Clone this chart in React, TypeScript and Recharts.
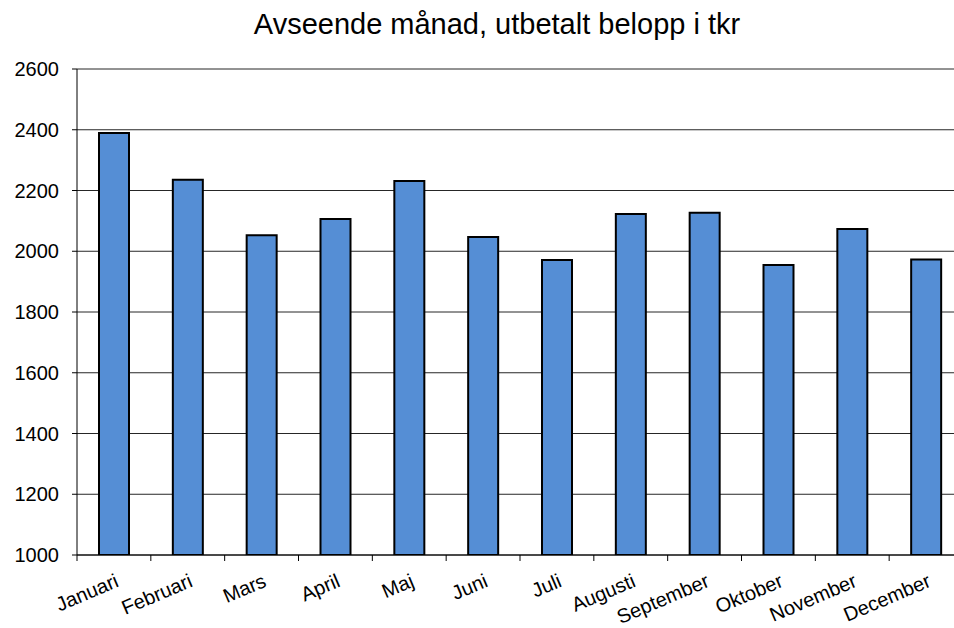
import { BarChart, Bar, XAxis, YAxis, CartesianGrid } from "recharts";

const months = [
  "Januari",
  "Februari",
  "Mars",
  "April",
  "Maj",
  "Juni",
  "Juli",
  "Augusti",
  "September",
  "Oktober",
  "November",
  "December",
];
const amounts = [2389, 2235, 2053, 2106, 2231, 2047, 1971, 2123, 2127, 1955, 2073, 1973];
const yTicks = [1000, 1200, 1400, 1600, 1800, 2000, 2200, 2400, 2600];

const data = months.map((m, i) => ({ month: m, value: amounts[i] }));

const W = 954;
const H = 628;
const PLOT_LEFT = 77;
const RIGHT_FIX = -9;
const BAND = (W - PLOT_LEFT - RIGHT_FIX) / months.length;
const font = "'Liberation Sans', Arial, sans-serif";

function MonthTick(props: any) {
  const { x, y, payload, index } = props;
  const left = x - BAND / 2;
  return (
    <g>
      <line x1={left} x2={left} y1={y - 8} y2={y - 2} stroke="#000" />
      {index === months.length - 1 && (
        <line x1={left + BAND} x2={left + BAND} y1={y - 8} y2={y - 2} stroke="#000" />
      )}
      <text
        x={x + 6}
        y={y + 23}
        textAnchor="end"
        transform={`rotate(-23 ${x + 6} ${y + 23})`}
        fontSize={20}
        fontFamily={font}
        fill="#000"
      >
        {payload.value}
      </text>
    </g>
  );
}

export default function App() {
  return (
    <div style={{ position: "absolute", left: 0, top: 0, width: W, height: H, background: "#fff", overflow: "hidden" }}>
      <div
        style={{
          position: "absolute",
          left: 0,
          top: 8,
          width: W,
          textAlign: "center",
          fontFamily: font,
          fontSize: 29,
          color: "#000",
          paddingLeft: 40,
          boxSizing: "border-box",
        }}
      >
        Avseende månad, utbetalt belopp i tkr
      </div>
      <BarChart
        width={W}
        height={H}
        data={data}
        margin={{ top: 69, right: RIGHT_FIX, left: 0, bottom: 0 }}
        barCategoryGap={0}
      >
        <CartesianGrid vertical={false} stroke="#000" strokeOpacity={0.85} />
        <YAxis
          domain={[1000, 2600]}
          ticks={yTicks}
          interval={0}
          width={PLOT_LEFT}
          axisLine={{ stroke: "#000" }}
          tickLine={{ stroke: "#000" }}
          tickSize={5}
          tickMargin={13}
          tick={{ fontSize: 20, fill: "#000", fontFamily: font }}
          allowDataOverflow
        />
        <XAxis
          dataKey="month"
          height={73}
          interval={0}
          axisLine={{ stroke: "#000" }}
          tickLine={false}
          tick={<MonthTick />}
        />
        <Bar
          dataKey="value"
          fill="#558ED5"
          stroke="#000"
          strokeWidth={2}
          barSize={30}
          isAnimationActive={false}
        />
      </BarChart>
    </div>
  );
}
